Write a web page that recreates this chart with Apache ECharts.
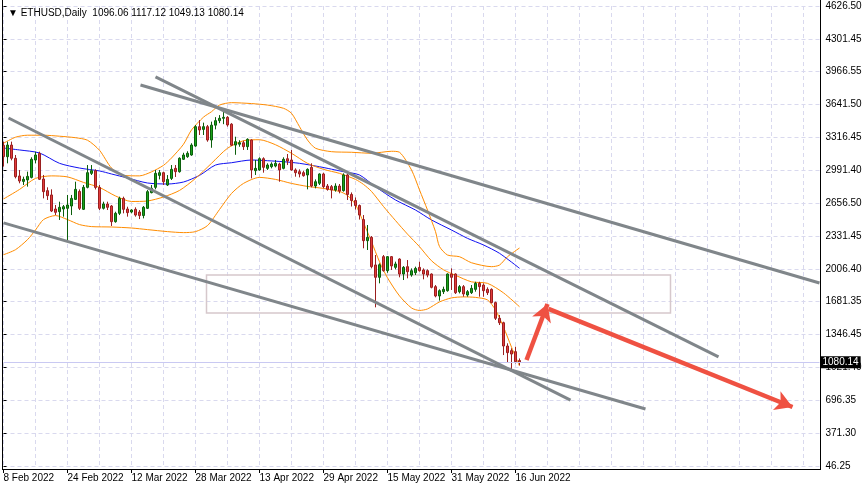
<!DOCTYPE html>
<html><head><meta charset="utf-8">
<script src="https://cdn.jsdelivr.net/npm/echarts@6/dist/echarts.min.js"></script>
<style>html,body{margin:0;padding:0;background:#fff}#c{width:866px;height:491px}</style>
</head><body><div id="c"></div>
<script>
const symbolName = 'ETHUSD,Daily';
const startDate = [2022, 1, 8];   // 8 Feb 2022
const totalSlots = 205;           // bars + empty future space
const opens  = [3240,3126,3242,3110,2934,2880,2895,2920,3093,3159,2904,2788,2745,2605,2579,2605,2612,2635,2701,2780,2602,2821,2960,2987,2820,2612,2655,2635,2479,2562,2711,2605,2575,2602,2575,2540,2612,2768,2821,2940,2967,2844,2910,3010,2977,3100,3126,3143,3232,3425,3398,3425,3292,3440,3485,3508,3518,3450,3242,3250,3265,3226,3292,2987,2994,3106,3010,3027,3033,3053,3010,3106,3093,2994,2977,2967,2944,3020,2834,2861,2954,2834,2828,2794,2834,2788,2944,2750,2690,2640,2500,2290,2323,2048,1925,2131,1991,2131,2024,2107,1958,2031,1948,1971,2024,1998,1991,1958,1832,1739,1782,1792,1958,1958,1782,1832,1749,1772,1805,1865,1848,1805,1805,1673,1517,1473,1241,1195,1185,1096.06];
const highs  = [3276,3276,3276,3143,2993,2927,2977,3120,3176,3176,2944,2821,2801,2645,2678,2645,2745,2745,2877,2800,2844,3043,3043,3000,2844,2678,2678,2645,2578,2728,2728,2628,2602,2622,2595,2635,2794,2844,2993,2993,2977,2943,3043,3043,3120,3165,3180,3260,3441,3491,3465,3442,3475,3520,3540,3575,3530,3460,3325,3290,3286,3309,3299,3093,3120,3120,3060,3070,3093,3066,3120,3153,3193,3010,3000,2987,3010,3060,2900,2960,2967,2854,2844,2861,2854,2960,2960,2770,2720,2650,2545,2446,2336,2147,2064,2147,2137,2137,2081,2114,2037,2097,2014,2031,2080,2014,2004,1964,1848,1805,1832,1964,2014,1964,1848,1848,1798,1848,1881,1881,1865,1825,1815,1683,1550,1483,1268,1218,1234,1117.12];
const lows   = [3027,3060,3090,2910,2861,2844,2828,2910,3060,2894,2711,2695,2575,2545,2496,2529,2296,2545,2695,2595,2595,2811,2944,2800,2595,2600,2595,2436,2469,2545,2562,2529,2562,2529,2505,2512,2605,2761,2801,2900,2844,2834,2894,2924,2967,3093,3115,3135,3225,3342,3342,3275,3215,3398,3460,3450,3425,3232,3145,3225,3193,3193,2910,2944,2987,2967,2994,3010,3020,2877,3000,3043,2987,2927,2920,2927,2801,2821,2811,2844,2811,2788,2711,2778,2761,2778,2695,2630,2600,2500,2214,2197,2014,1626,1865,1981,1970,1998,2004,1925,1898,1915,1931,1948,1981,1905,1925,1815,1726,1693,1759,1782,1799,1759,1765,1732,1732,1759,1782,1732,1732,1749,1666,1500,1450,1151,1075,1002,1068,1049.13];
const closes = [3126,3242,3110,2927,2884,2901,2930,3100,3143,2901,2778,2738,2585,2572,2622,2628,2645,2711,2801,2612,2821,2967,2987,2820,2612,2655,2622,2479,2562,2711,2602,2569,2595,2545,2540,2622,2778,2811,2960,2967,2877,2900,3000,2977,3110,3143,3160,3242,3425,3392,3425,3292,3440,3485,3508,3518,3442,3240,3276,3265,3226,3299,2994,3010,3106,3020,3043,3053,3060,2994,3100,3083,2994,2967,2954,2937,3000,2834,2877,2954,2828,2801,2794,2834,2784,2944,2750,2690,2640,2545,2290,2323,2031,1925,2050,1991,2131,2038,2058,1958,2024,1981,1991,2014,1991,1958,1948,1825,1739,1792,1805,1958,1925,1772,1832,1759,1782,1815,1865,1832,1792,1772,1673,1517,1473,1241,1175,1161,1085,1080.14];

const yTickLabels = ['46.25','371.30','696.35','1021.40','1346.45','1681.35','2006.40','2331.45','2656.50','2991.40','3316.45','3641.50','3966.55','4301.45','4626.50'];
const yMin = 46.25, yMax = 4626.5;
const lastPrice = 1080.14;

// indicator lines: [bar index, price]
const bbUpper = [[0,3260],[3,3320],[6,3340],[10,3340],[14,3330],[18,3315],[21,3290],[24,3190],[27,3013],[30,2940],[34,2935],[37,2975],[40,3040],[42,3113],[45,3250],[47,3392],[50,3520],[52,3574],[54,3640],[57,3664],[62,3655],[66,3640],[70,3608],[72,3558],[74,3425],[76,3292],[78,3210],[82,3176],[87,3170],[92,3160],[97,3180],[99,3170],[102,2994],[104,2795],[106,2595],[108,2380],[109,2231],[111,2147],[114,2130],[117,2070],[122,2031],[124,2047],[126,2130],[129,2217]];
const bbMiddle = [[0,2705],[4,2800],[8,2910],[12,2935],[16,2925],[20,2870],[24,2820],[28,2735],[32,2680],[36,2685],[40,2725],[44,2790],[48,2910],[52,3060],[56,3210],[60,3285],[64,3295],[68,3245],[72,3160],[76,3060],[80,3000],[84,2960],[88,2900],[90,2850],[92,2780],[95,2630],[98,2490],[101,2355],[104,2230],[107,2090],[110,2000],[113,1945],[117,1880],[121,1865],[125,1770],[129,1632]];
const bbLower = [[0,2150],[3,2200],[6,2300],[8,2396],[10,2500],[13,2540],[16,2500],[19,2450],[22,2430],[27,2426],[32,2416],[36,2400],[41,2380],[45,2370],[48,2380],[51,2440],[54,2600],[57,2760],[60,2860],[64,2920],[68,2900],[72,2860],[76,2830],[80,2810],[84,2780],[86,2740],[88,2650],[90,2470],[92,2280],[94,2080],[96,1920],[99,1740],[102,1620],[104,1595],[106,1610],[109,1680],[112,1720],[115,1730],[118,1725],[121,1700],[123,1600],[125,1430],[127,1230],[129,1042]];
const maLine = [[0,3212],[4,3193],[9,3163],[14,3060],[19,3013],[24,2984],[27,2954],[31,2914],[36,2864],[41,2854],[45,2874],[49,2940],[53,3043],[57,3066],[62,3093],[66,3086],[70,3076],[74,3060],[79,3026],[85,2977],[89,2944],[93,2827],[98,2695],[103,2595],[107,2496],[112,2396],[116,2313],[120,2247],[124,2164],[129,2015]];

// drawn objects: [[barIndex, price], [barIndex, price]]
const trendLines = [
  [[1.25,3511],[141.75,703]],
  [[0,2467],[160.5,614]],
  [[38,3920],[178.75,1132]],
  [[34.25,3840],[204,1868]]
];
const arrows = [
  [[130.75,1102],[136,1659]],
  [[136.25,1610],[197.25,634]]
];
const zoneBox = [[50.75,1948],[166.75,1570]];

const months = ['Jan','Feb','Mar','Apr','May','Jun','Jul','Aug','Sep','Oct','Nov','Dec'];
const dates = [];
for (let i = 0; i < totalSlots; i++) {
  const d = new Date(Date.UTC(startDate[0], startDate[1], startDate[2] + i));
  dates.push(d.getUTCDate() + ' ' + months[d.getUTCMonth()] + ' ' + d.getUTCFullYear());
}
const nBars = closes.length;
const candles = closes.map((c, i) => [opens[i], c, lows[i], highs[i]]);
const yInterval = (yMax - yMin) / (yTickLabels.length - 1);
const FONT = 'Liberation Sans, Arial, sans-serif';
const gridC = '#d9d9ee';

const chart = echarts.init(document.getElementById('c'), null, {renderer: 'canvas'});
const lineSeries = (data, color) => ({
  type: 'line', xAxisIndex: 1, data, symbol: 'none', smooth: 0.25,
  lineStyle: {color, width: 1}, silent: true, z: 3
});
chart.setOption({
  animation: false,
  backgroundColor: '#fff',
  title: {
    text: '▼ ' + symbolName + '  ' + [opens[nBars-1], highs[nBars-1], lows[nBars-1], closes[nBars-1]].map(v => v.toFixed(2)).join(' '),
    left: 3, top: 3,
    textStyle: {fontSize: 10, fontWeight: 'normal', color: '#000', fontFamily: FONT}
  },
  grid: {left: 3.5, right: 46.5, top: 6, bottom: 25, containLabel: false},
  xAxis: [{
    type: 'category', data: dates, boundaryGap: false, offset: 3,
    axisLine: {show: false},
    axisTick: {show: true, length: 4, lineStyle: {color: '#000'}, interval: (i) => i % 16 === 0 && i < nBars},
    axisLabel: {interval: 15, align: 'left', margin: 4, fontSize: 10, color: '#000', fontFamily: FONT,
      formatter: (v, i) => (i < nBars ? v : '')},
    splitLine: {show: true, interval: 7, lineStyle: {color: gridC, type: [4, 3], width: 1}}
  }, {
    type: 'value', min: 0, max: totalSlots - 1, show: false
  }],
  yAxis: {
    type: 'value', position: 'right', min: yMin, max: yMax, interval: yInterval,
    axisLine: {show: false},
    axisTick: {show: true, length: 3, lineStyle: {color: '#000'}},
    axisLabel: {fontSize: 10, color: '#000', margin: 6, fontFamily: FONT,
      formatter: (v) => yTickLabels[Math.round((v - yMin) / yInterval)] || ''},
    splitLine: {show: true, lineStyle: {color: gridC, type: [4, 3], width: 1}}
  },
  series: [
    {
      type: 'candlestick', data: candles, barWidth: 3, clip: false, z: 4,
      itemStyle: {color: '#19a319', color0: '#e23b3b', borderColor: '#0b5e0b', borderColor0: '#9a1f1f', borderWidth: 1},
      markLine: {
        silent: true, symbol: 'none', animation: false,
        data: [{yAxis: lastPrice}],
        lineStyle: {color: '#c9c9f2', type: 'solid', width: 1},
        label: {show: true, position: 'end', distance: 1, formatter: lastPrice.toFixed(2),
          backgroundColor: '#000', color: '#fff', padding: [1, 2, 1, 2], fontSize: 10, fontFamily: FONT}
      }
    },
    lineSeries(maLine, '#1010f0'),
    lineSeries(bbUpper, '#ff8c00'),
    lineSeries(bbMiddle, '#ff8c00'),
    lineSeries(bbLower, '#ff8c00'),
    {
      type: 'line', xAxisIndex: 1, data: [], clip: false, silent: true, z: 5,
      markArea: {
        silent: true,
        itemStyle: {color: 'rgba(0,0,0,0)', borderColor: '#d6c8cc', borderWidth: 1.5},
        data: [[{coord: zoneBox[0]}, {coord: zoneBox[1]}]]
      },
      markLine: {
        silent: true, symbol: 'none', animation: false,
        lineStyle: {color: '#80868a', width: 3, type: 'solid'},
        label: {show: false},
        data: trendLines.map(l => [{coord: l[0]}, {coord: l[1]}])
      }
    },
    {
      type: 'line', xAxisIndex: 1, data: [], clip: false, silent: true, z: 6,
      markLine: {
        silent: true, symbol: ['none', 'arrow'], symbolSize: [15, 17], animation: false,
        lineStyle: {color: '#ef5142', width: 4.5, type: 'solid'},
        itemStyle: {color: '#ef5142'},
        label: {show: false},
        data: arrows.map(l => [{coord: l[0]}, {coord: l[1]}])
      }
    }
  ],
  graphic: [
    {type: 'line', shape: {x1: 2.5, y1: 0, x2: 2.5, y2: 470}, style: {stroke: '#000', lineWidth: 1}, silent: true, z: 100},
    {type: 'line', shape: {x1: 820.5, y1: 0, x2: 820.5, y2: 470}, style: {stroke: '#000', lineWidth: 1}, silent: true, z: 100},
    {type: 'line', shape: {x1: 2, y1: 469.5, x2: 821, y2: 469.5}, style: {stroke: '#000', lineWidth: 1}, silent: true, z: 100}
  ]
});
</script>
</body></html>
